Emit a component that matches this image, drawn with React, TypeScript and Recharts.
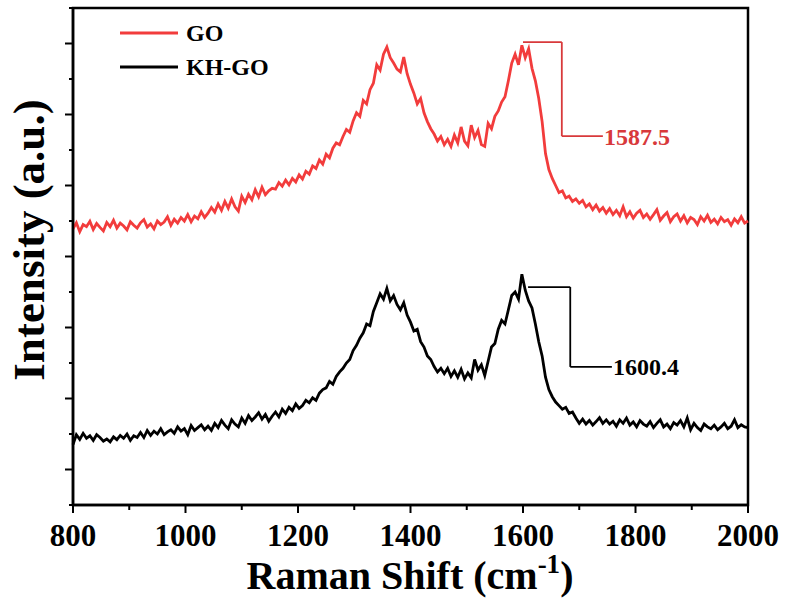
import React from 'react'
import {
  LineChart,
  Line,
  XAxis,
  YAxis,
  Legend,
  ReferenceLine,
  ReferenceArea,
} from 'recharts'

// Raman spectra, sampled every 6 cm-1 from 800 to 2000
const shiftStart = 800
const shiftStep = 6

const goIntensity = [
  7.78, 7.95, 7.70, 7.90, 7.84, 7.99, 7.76, 7.93, 7.82, 7.72,
  7.96, 7.84, 8.02, 7.80, 7.94, 7.86, 7.75, 7.98, 7.88, 7.80,
  7.95, 8.04, 7.83, 7.92, 7.78, 8.00, 7.90, 7.97, 8.12, 7.88,
  8.05, 7.94, 8.10, 8.00, 8.18, 7.98, 8.14, 8.06, 8.26, 8.10,
  8.22, 8.38, 8.25, 8.48, 8.30, 8.55, 8.36, 8.62, 8.40, 8.28,
  8.70, 8.52, 8.75, 8.60, 8.88, 8.68, 8.95, 8.74, 8.85, 8.92,
  8.90, 9.08, 8.98, 9.15, 9.02, 9.20, 9.10, 9.30, 9.18, 9.40,
  9.32, 9.55, 9.48, 9.72, 9.60, 9.88, 9.78, 10.05, 10.20, 10.15,
  10.38, 10.58, 10.50, 10.82, 11.05, 10.95, 11.40, 11.30, 11.70, 11.88,
  12.40, 12.25, 12.70, 12.90, 12.60, 12.45, 12.28, 12.20, 12.62, 12.15,
  11.85, 11.60, 11.30, 11.45, 11.05, 10.80, 10.60, 10.45, 10.25, 10.38,
  10.15, 10.30, 10.10, 10.42, 10.20, 10.65, 10.25, 10.12, 10.70, 10.35,
  10.55, 10.15, 10.10, 10.75, 10.60, 10.95, 11.10, 11.35, 11.50, 11.95,
  12.45, 12.70, 12.40, 12.95, 12.60, 12.85, 12.30, 11.95, 11.45, 10.80,
  9.90, 9.45, 9.20, 9.00, 8.80, 8.85, 8.65, 8.70, 8.55, 8.62,
  8.50, 8.58, 8.40, 8.48, 8.32, 8.45, 8.28, 8.38, 8.22, 8.35,
  8.18, 8.30, 8.15, 8.40, 8.12, 8.26, 8.08, 8.22, 8.30, 8.10,
  8.20, 8.05, 8.18, 8.32, 8.02, 8.14, 8.24, 7.98, 8.12, 8.20,
  8.00, 8.15, 7.95, 8.10, 8.04, 7.90, 8.12, 8.00, 8.16, 7.96,
  8.05, 7.92, 8.10, 7.98, 8.04, 7.88, 8.06, 7.95, 8.12, 7.94,
  8.00,
]

const khgoIntensity = [
  1.70, 1.98, 1.85, 2.02, 1.88, 1.95, 1.82, 1.98, 1.90, 1.80,
  1.86, 1.78, 1.92, 1.84, 1.96, 1.88, 2.00, 1.82, 1.95, 1.90,
  2.04, 1.90, 2.10, 1.96, 2.08, 2.00, 2.15, 1.98, 2.06, 2.12,
  2.02, 2.20, 2.08, 2.15, 1.98, 2.24, 2.10, 2.18, 2.26, 2.12,
  2.22, 2.10, 2.30, 2.18, 2.38, 2.25, 2.15, 2.40, 2.28, 2.20,
  2.45, 2.30, 2.52, 2.38, 2.48, 2.60, 2.42, 2.55, 2.36, 2.50,
  2.62, 2.48, 2.70, 2.58, 2.75, 2.66, 2.85, 2.72, 2.80, 2.95,
  2.88, 3.02, 2.95, 3.15, 3.25, 3.30, 3.48, 3.40, 3.62, 3.75,
  3.85, 4.00, 4.10, 4.35, 4.50, 4.70, 4.85, 5.10, 5.05, 5.45,
  5.70, 5.95, 5.80, 6.10, 5.75, 5.90, 5.65, 5.50, 5.70, 5.35,
  5.15, 4.90, 4.95, 4.60, 4.45, 4.20, 4.10, 3.90, 3.75, 3.85,
  3.70, 3.85, 3.62, 3.78, 3.60, 3.82, 3.55, 3.72, 3.58, 4.10,
  3.80, 3.95, 3.65, 4.05, 4.45, 4.55, 4.95, 5.20, 5.10, 5.50,
  5.90, 6.00, 5.80, 6.50, 6.05, 5.75, 5.55, 5.10, 4.60, 4.20,
  3.60, 3.25, 3.05, 2.90, 2.80, 2.70, 2.75, 2.58, 2.62, 2.45,
  2.30, 2.42, 2.28, 2.38, 2.25, 2.35, 2.46, 2.30, 2.40, 2.28,
  2.36, 2.22, 2.40, 2.30, 2.45, 2.25, 2.34, 2.20, 2.38, 2.28,
  2.22, 2.35, 2.18, 2.30, 2.40, 2.20, 2.28, 2.15, 2.32, 2.25,
  2.38, 2.20, 2.45, 2.12, 2.30, 2.18, 2.10, 2.28, 2.20, 2.15,
  2.25, 2.12, 2.20, 2.30, 2.15, 2.22, 2.40, 2.18, 2.26, 2.20,
  2.18,
]

const xTicks = [800, 900, 1000, 1100, 1200, 1300, 1400, 1500, 1600, 1700, 1800, 1900, 2000]
const yTicks = [0, 1, 2, 3, 4, 5, 6, 7, 8, 9, 10, 11, 12, 13, 14]

// peak callouts: [shift, intensity] corners of the bracket, then the label
const goPeakBracket = [[1600, 13.04], [1669, 13.04], [1669, 10.39], [1742, 10.39]]
const goPeakLabel = '1587.5'
const khgoPeakBracket = [[1609, 6.14], [1684, 6.14], [1684, 3.89], [1758, 3.89]]
const khgoPeakLabel = '1600.4'

const GO_RED = '#f23c3c'
const SERIF = "'Liberation Serif', 'Times New Roman', serif"

const chartData = goIntensity.map((v, i) => ({
  shift: shiftStart + i * shiftStep,
  go: v,
  khgo: khgoIntensity[i],
}))

// eslint-disable-next-line @typescript-eslint/no-explicit-any
const XTick = (props: any) => {
  const { x, y, payload } = props
  const major = payload.value % 200 === 0
  return (
    <g>
      <line x1={x} x2={x} y1={y} y2={y + (major ? 8 : 5)} stroke="#000" strokeWidth={2} />
      {major && (
        <text x={x} y={y + 41} textAnchor="middle" fontFamily={SERIF} fontWeight="bold" fontSize={31} fill="#000">
          {payload.value}
        </text>
      )}
    </g>
  )
}

// eslint-disable-next-line @typescript-eslint/no-explicit-any
const YTick = (props: any) => {
  const { x, y, payload } = props
  const major = payload.value % 2 === 1
  return <line x1={x - (major ? 8 : 4)} x2={x} y1={y} y2={y} stroke="#000" strokeWidth={2} />
}

// eslint-disable-next-line @typescript-eslint/no-explicit-any
const LegendContent = (props: any) => {
  const { payload } = props
  return (
    <div>
      {payload.map((item: any) => (
        <div key={item.value} style={{ display: 'flex', alignItems: 'center', height: 34 }}>
          <svg width={58} height={4} style={{ marginRight: 8 }}>
            <line x1={0} x2={58} y1={2} y2={2} stroke={item.color} strokeWidth={3} />
          </svg>
          <span style={{ fontFamily: SERIF, fontWeight: 'bold', fontSize: 24, lineHeight: 1, color: '#000' }}>
            {item.value}
          </span>
        </div>
      ))}
    </div>
  )
}

function bracket(points: number[][], color: string, label: string) {
  return points.slice(1).map((p, i) => {
    const last = i === points.length - 2
    return (
      <ReferenceLine
        key={`${label}-${i}`}
        segment={[
          { x: points[i][0], y: points[i][1] },
          { x: p[0], y: p[1] },
        ]}
        stroke={color}
        strokeWidth={1.8}
        ifOverflow="visible"
        label={
          last
            ? {
                value: label,
                position: 'right',
                offset: 1,
                fill: color,
                fontFamily: SERIF,
                fontWeight: 'bold',
                fontSize: 24,
              }
            : undefined
        }
      />
    )
  })
}

export default function App() {
  return (
    <div style={{ position: 'absolute', left: 0, top: 0, width: 785, height: 598, background: '#fff' }}>
      <LineChart width={785} height={598} data={chartData} margin={{ top: 8, right: 37, bottom: 0, left: 0 }}>
        <XAxis
          dataKey="shift"
          type="number"
          domain={[800, 2000]}
          ticks={xTicks}
          interval={0}
          height={93}
          tickSize={0}
          tickMargin={0}
          tickLine={false}
          tick={<XTick />}
          axisLine={{ stroke: '#000', strokeWidth: 2.5 }}
          label={{
            content: () => (
              <text x={410} y={589} textAnchor="middle" fontFamily={SERIF} fontWeight="bold" fontSize={40} fill="#000">
                Raman Shift (cm
                <tspan fontSize={27} dy={-16}>-1</tspan>
                <tspan dy={16}>)</tspan>
              </text>
            ),
          }}
        />
        <YAxis
          type="number"
          domain={[0, 14]}
          ticks={yTicks}
          interval={0}
          width={73}
          tickSize={0}
          tickMargin={0}
          tickLine={false}
          tick={<YTick />}
          axisLine={{ stroke: '#000', strokeWidth: 2.5 }}
          label={{
            content: () => (
              <text
                x={29}
                y={240}
                transform="rotate(-90 29 240)"
                textAnchor="middle"
                dominantBaseline="central"
                fontFamily={SERIF}
                fontWeight="bold"
                fontSize={45}
                fill="#000"
              >
                Intensity (a.u.)
              </text>
            ),
          }}
        />
        <ReferenceArea x1={800} x2={2000} y1={0} y2={14} fill="none" stroke="#000" strokeWidth={2.5} />
        <Legend
          layout="vertical"
          align="center"
          verticalAlign="middle"
          wrapperStyle={{ left: 120, top: 16, width: 200 }}
          content={<LegendContent />}
        />
        <Line
          type="linear"
          dataKey="go"
          name="GO"
          stroke={GO_RED}
          strokeWidth={2.8}
          dot={false}
          isAnimationActive={false}
        />
        <Line
          type="linear"
          dataKey="khgo"
          name="KH-GO"
          stroke="#000"
          strokeWidth={2.8}
          dot={false}
          isAnimationActive={false}
        />
        {bracket(goPeakBracket, '#d8393b', goPeakLabel)}
        {bracket(khgoPeakBracket, '#000', khgoPeakLabel)}
      </LineChart>
    </div>
  )
}
